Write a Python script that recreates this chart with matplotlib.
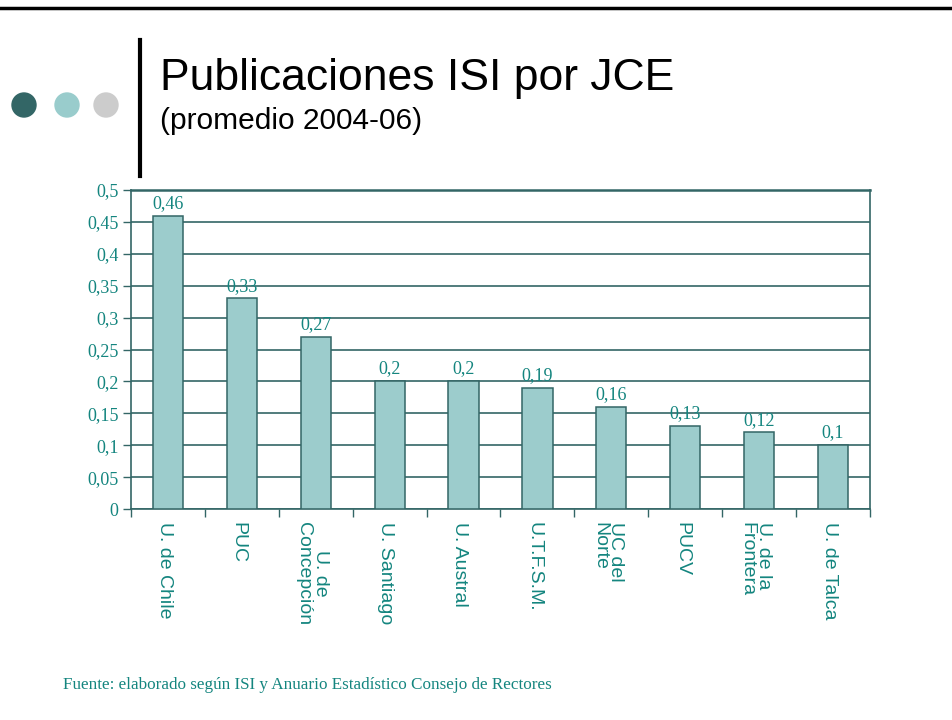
import matplotlib
matplotlib.use("Agg")
import matplotlib.pyplot as plt
from matplotlib.patches import Circle
from matplotlib.lines import Line2D

# data
universidades = ["U. de Chile", "PUC", "U. de\nConcepción", "U. Santiago", "U. Austral",
                 "U.T.F.S.M.", "UC del\nNorte", "PUCV", "U. de la\nFrontera", "U. de Talca"]
publicaciones = [0.46, 0.33, 0.27, 0.20, 0.20, 0.19, 0.16, 0.13, 0.12, 0.10]
valor_txt = ["0,46", "0,33", "0,27", "0,2", "0,2", "0,19", "0,16", "0,13", "0,12", "0,1"]
yticks = [0, 0.05, 0.1, 0.15, 0.2, 0.25, 0.3, 0.35, 0.4, 0.45, 0.5]
ytick_txt = ["0", "0,05", "0,1", "0,15", "0,2", "0,25", "0,3", "0,35", "0,4", "0,45", "0,5"]

TEAL_TXT = "#14857f"; GRID = "#336666"; BAR = "#9ccccc"
SERIF = "Liberation Serif"; SANS = "Liberation Sans"

W, H = 953, 720
fig = plt.figure(figsize=(W / 100, H / 100), dpi=100)

# slide decoration: top rule, circles, vertical bar
deco = fig.add_axes([0, 0, 1, 1]); deco.set_xlim(0, W); deco.set_ylim(H, 0); deco.axis("off")
deco.add_line(Line2D([0, W], [8, 8], color="black", lw=2.5))
deco.add_line(Line2D([140, 140], [40, 176], color="black", lw=3))
for cx, c in [(24, "#336666"), (67, "#99cccc"), (106, "#cccccc")]:
    deco.add_patch(Circle((cx, 105), 12, color=c))
deco.text(160, 90, "Publicaciones ISI por JCE", fontsize=32, family=SANS, va="baseline")
deco.text(160, 129, "(promedio 2004-06)", fontsize=21.5, family=SANS, va="baseline")
deco.text(63, 689, "Fuente: elaborado según ISI y Anuario Estadístico Consejo de Rectores",
          fontsize=12.3, family=SERIF, color=TEAL_TXT, va="baseline")

ax = fig.add_axes([131 / W, 1 - 509 / H, (870 - 131) / W, (509 - 190) / H])
x = list(range(len(universidades)))
bars = ax.bar(x, publicaciones, width=0.41, color=BAR, edgecolor=GRID, lw=1.1, zorder=3)
for b, t in zip(bars, valor_txt):
    ax.text(b.get_x() + b.get_width() / 2, b.get_height() + 0.006, t, ha="center", va="bottom",
            fontsize=13, family=SERIF, color=TEAL_TXT, zorder=4)

ax.set_xlim(-0.5, len(x) - 0.5); ax.set_ylim(0, 0.5)
ax.set_yticks(yticks); ax.set_yticklabels(ytick_txt, family=SERIF, fontsize=13, color=TEAL_TXT)
ax.yaxis.grid(True, color=GRID, lw=1.2, zorder=0)
ax.set_xticks([i - 0.5 for i in range(len(x) + 1)]); ax.set_xticklabels([])
ax.tick_params(axis="both", color=GRID, width=1, length=6, direction="out")
ax.tick_params(axis="y", pad=3)
for s in ["left", "bottom", "top", "right"]:
    ax.spines[s].set_color(GRID); ax.spines[s].set_linewidth(1.2)
ax.spines["top"].set_linewidth(1.8)
for xi, lab in zip(x, universidades):
    ax.text(xi - 0.05, -0.02, lab, rotation=270, ha="center", va="top", fontsize=14, family=SANS,
            color=TEAL_TXT, multialignment="center" if "Concep" in lab else "left",
            linespacing=0.95)

fig.savefig("out.png", dpi=100)
